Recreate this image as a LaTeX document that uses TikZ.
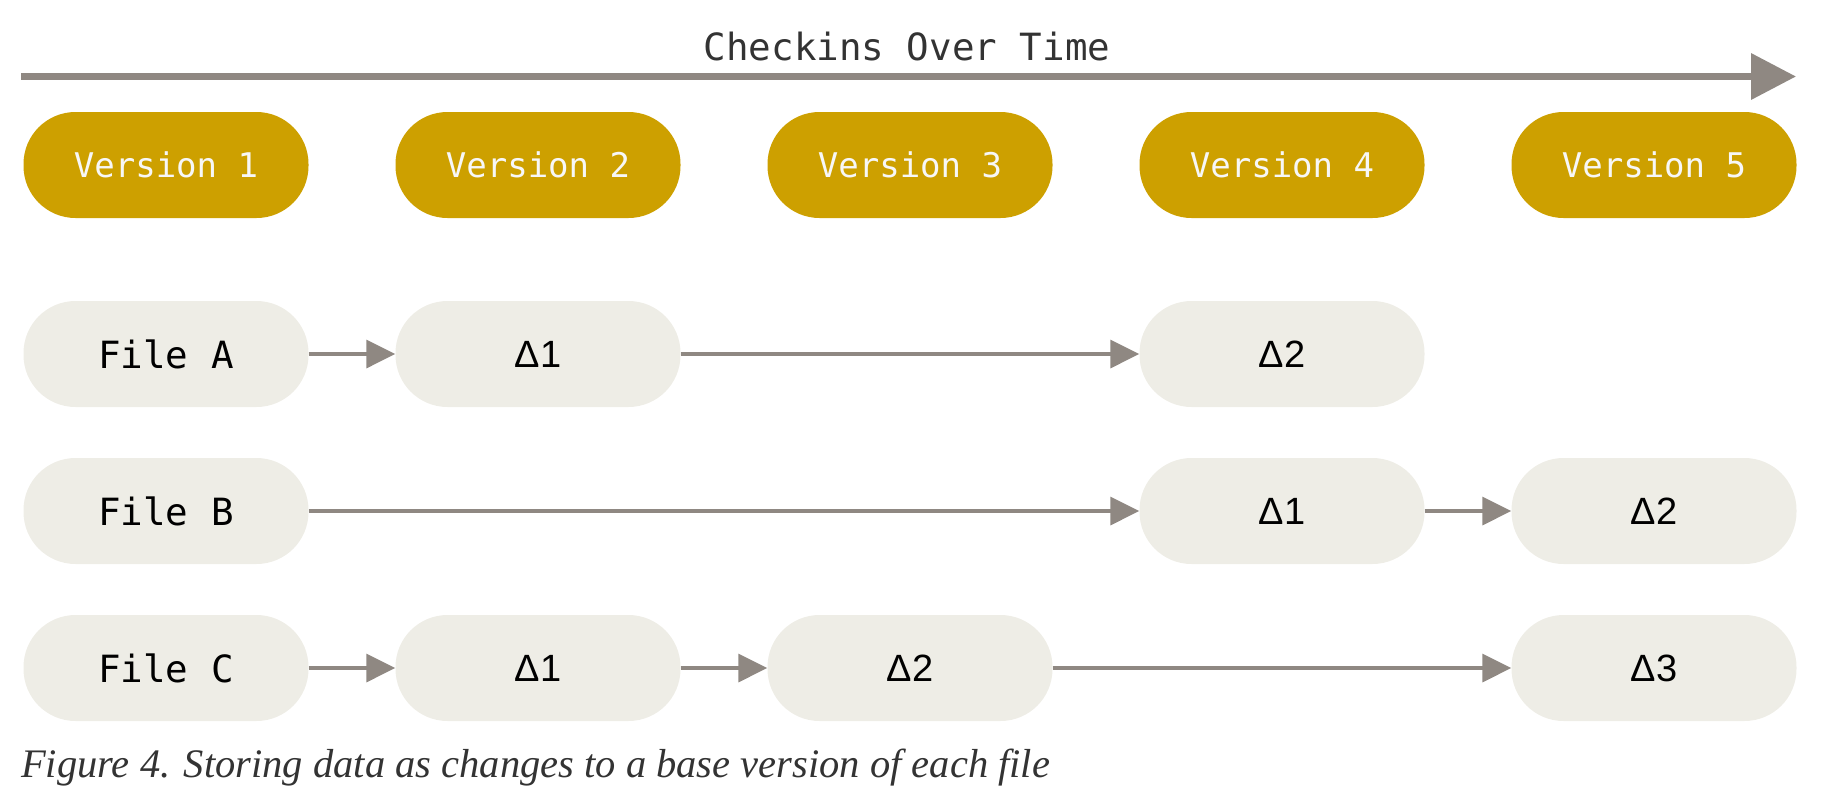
\documentclass[tikz,border=0pt]{standalone}
\usepackage{fontspec}
\setmainfont{Liberation Serif}
\newfontfamily\monofont{DejaVu Sans Mono}
\newfontfamily\deltafont{Liberation Sans}
\usetikzlibrary{arrows.meta}
\definecolor{gold}{RGB}{205,160,0}
\definecolor{pale}{RGB}{238,237,230}
\definecolor{arrowgray}{RGB}{143,136,130}
\definecolor{ink}{RGB}{51,51,51}
\tikzset{
  x=1pt, y=-1pt,
  pill/.style={rounded corners=52pt, minimum width=285pt, minimum height=106pt,
    inner sep=0pt, draw=none},
  version/.style={pill, fill=gold, text=white!97!black,
    font=\monofont\fontsize{34}{40}\selectfont},
  filebox/.style={pill, fill=pale, text=black,
    font=\monofont\fontsize{37.5}{44}\selectfont},
  deltabox/.style={pill, fill=pale, text=black,
    font=\deltafont\fontsize{38}{44}\selectfont},
  link/.style={draw=arrowgray, line width=3.5pt,
    -{Triangle[length=29pt,width=28pt]}, arrowgray},
  timeline/.style={draw=arrowgray, line width=7pt,
    -{Triangle[length=45pt,width=45pt]}, arrowgray},
}
\begin{document}
\begin{tikzpicture}
\useasboundingbox (0,0) rectangle (1844,798);

% time axis
\coordinate (tstart) at (21,76.5);
\coordinate (tend) at (1796,76.5);
\draw[timeline] (tstart) -- (tend);
\node[text=ink, font=\monofont\fontsize{37.5}{44}\selectfont] (title) at (907,47) {Checkins Over Time};

% versions
\node[version] (v1) at (166,165) {Version 1};
\node[version] (v2) at (538,165) {Version 2};
\node[version] (v3) at (910,165) {Version 3};
\node[version] (v4) at (1282,165) {Version 4};
\node[version] (v5) at (1654,165) {Version 5};

% file A
\node[filebox] (fa) at (166,354) {File A};
\node[deltabox] (a1) at (538,354) {Δ1};
\node[deltabox] (a2) at (1282,354) {Δ2};

% file B
\node[filebox] (fb) at (166,511) {File B};
\node[deltabox] (b1) at (1282,511) {Δ1};
\node[deltabox] (b2) at (1654,511) {Δ2};

% file C
\node[filebox] (fc) at (166,668) {File C};
\node[deltabox] (c1) at (538,668) {Δ1};
\node[deltabox] (c2) at (910,668) {Δ2};
\node[deltabox] (c3) at (1654,668) {Δ3};

\draw[link] (fa) -- (a1);
\draw[link] (a1) -- (a2);
\draw[link] (fb) -- (b1);
\draw[link] (b1) -- (b2);
\draw[link] (fc) -- (c1);
\draw[link] (c1) -- (c2);
\draw[link] (c2) -- (c3);

% caption
\node[anchor=base west, inner sep=0pt, text=ink,
  font=\itshape\fontsize{40.5}{46}\selectfont] (cap) at (21,777)
  {Figure 4. Storing data as changes to a base version of each file};
\end{tikzpicture}
\end{document}
